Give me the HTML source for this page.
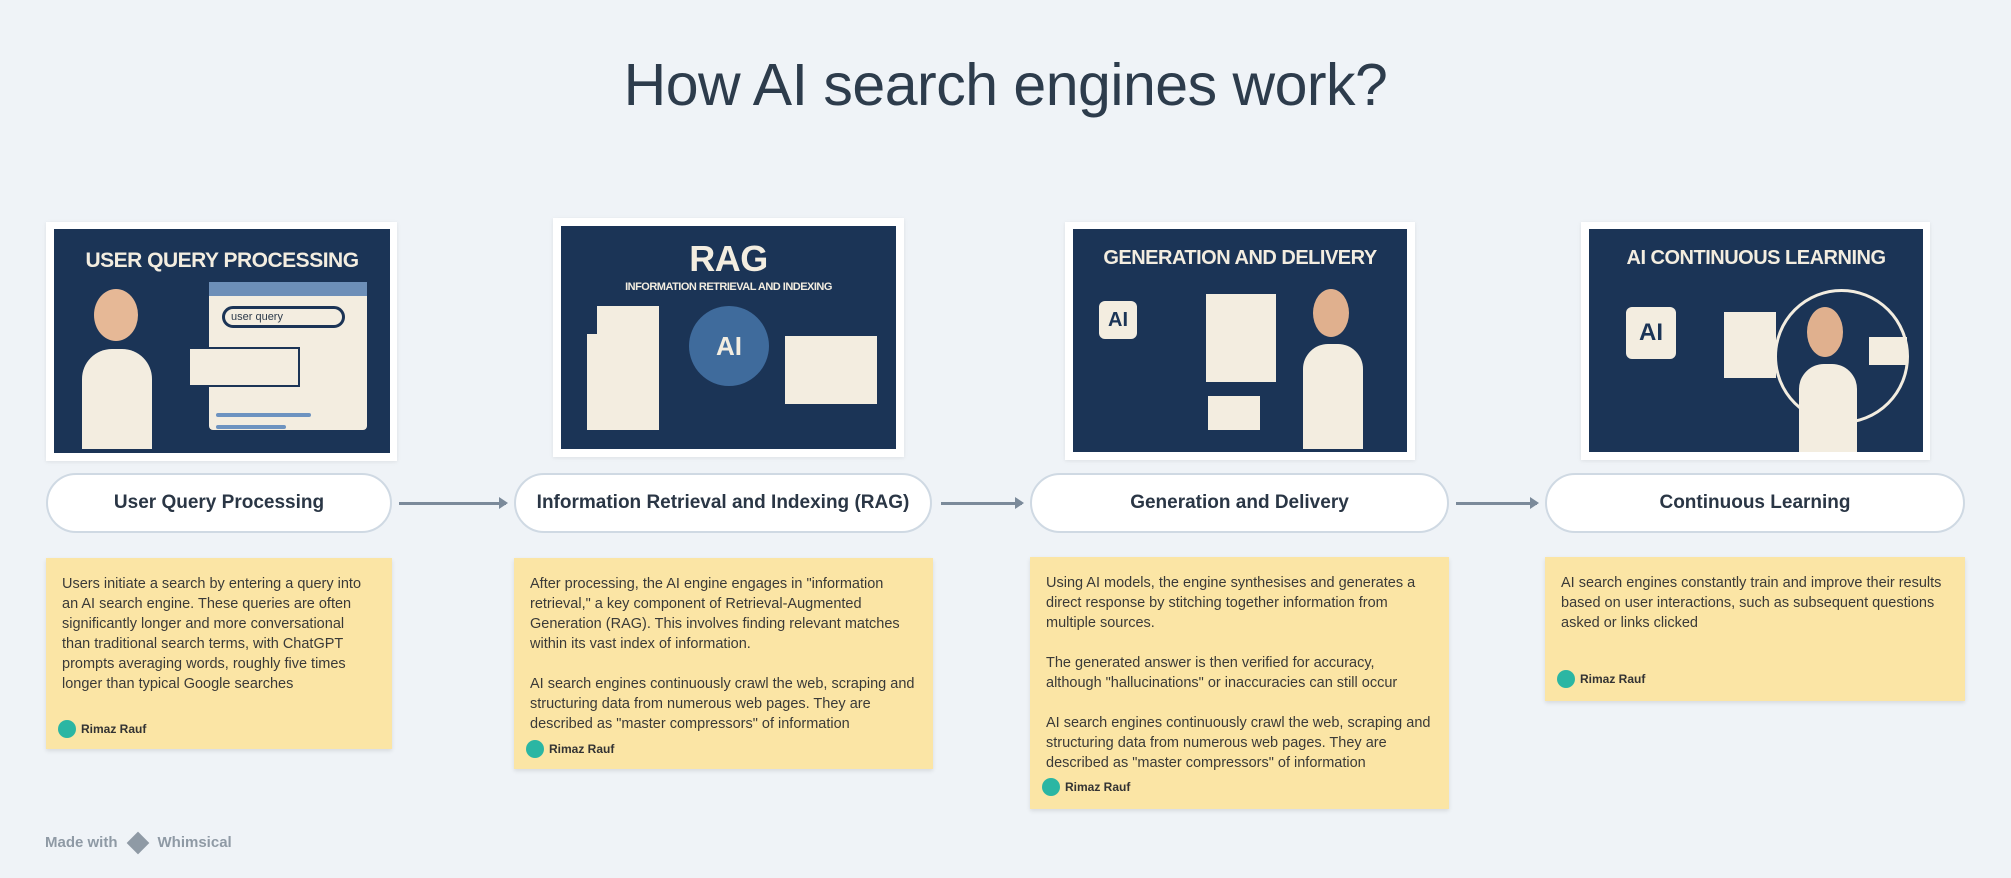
<!DOCTYPE html>
<html><head><meta charset="utf-8"><style>
*{margin:0;padding:0;box-sizing:border-box}
body{width:2011px;height:878px;background:#eff3f7;position:relative;overflow:hidden;font-family:"Liberation Sans",sans-serif;color:#2c3a4a}
.abs{position:absolute}
.title{left:0;width:2011px;top:51px;text-align:center;font-size:59px;color:#2d3c4c;letter-spacing:-0.5px}
.frame{background:#fff;box-shadow:0 1px 4px rgba(0,0,0,.08)}
.img{background:#1b3456;overflow:hidden}
.img .h{position:absolute;left:0;right:0;text-align:center;color:#f3ede0;font-weight:bold;letter-spacing:-0.5px}
.pill{background:#fff;border:2px solid #cfd9e3;border-radius:32px;display:flex;align-items:center;justify-content:center;font-weight:bold;font-size:19px;color:#2a3645}
.note{background:#fbe5a5;box-shadow:0 2px 4px rgba(0,0,0,.1);padding:16px 16px;font-size:14.5px;line-height:20px;color:#3a3a38}
.note p{margin-bottom:20px}
.auth{position:absolute;left:12px;font-size:12px;font-weight:bold;display:flex;align-items:center;gap:5px;color:#333}
.auth i{display:inline-block;width:18px;height:18px;border-radius:50%;background:#2bb6a3}
.arrow{height:3px;background:#7b8a9a}
.arrow:after{content:"";position:absolute;right:-2px;top:-5px;border-left:9px solid #7b8a9a;border-top:6.5px solid transparent;border-bottom:6.5px solid transparent}
.cream{background:#f3ede0;position:absolute}
.line{background:#6d93c0;position:absolute;height:4px;border-radius:2px}
</style></head><body>
<div class="abs title">How AI search engines work?</div>

<div class="abs frame" style="left:46px;top:222px;width:351px;height:239px"></div>
<div class="abs img" style="left:54px;top:229px;width:336px;height:224px">
 <div class="h" style="top:20px;font-size:21px">USER QUERY PROCESSING</div>
 <div class="cream" style="left:155px;top:53px;width:158px;height:148px;border-radius:4px"></div>
 <div class="abs" style="left:155px;top:53px;width:158px;height:14px;background:#6d8fb8"></div>
 <div class="abs" style="left:168px;top:77px;width:123px;height:22px;border:3px solid #1b3456;border-radius:11px;background:#f3ede0;font-size:11px;padding-left:6px;line-height:16px">user query</div>
 <div class="cream" style="left:134px;top:118px;width:112px;height:40px;border:2px solid #1b3456"></div>
 <div class="line" style="left:162px;top:184px;width:95px"></div>
 <div class="line" style="left:162px;top:196px;width:70px"></div>
 <div class="cream" style="left:28px;top:120px;width:70px;height:100px;border-radius:30px 30px 0 0"></div>
 <div class="abs" style="left:40px;top:60px;width:44px;height:52px;border-radius:50%;background:#e6b896"></div>
</div>

<div class="abs frame" style="left:553px;top:218px;width:351px;height:239px"></div>
<div class="abs img" style="left:561px;top:226px;width:335px;height:223px">
 <div class="h" style="top:12px;font-size:36px">RAG</div>
 <div class="h" style="top:55px;font-size:11px">INFORMATION RETRIEVAL AND INDEXING</div>
 <div class="cream" style="left:26px;top:108px;width:72px;height:96px"></div>
 <div class="cream" style="left:36px;top:80px;width:62px;height:40px"></div>
 <div class="abs" style="left:128px;top:80px;width:80px;height:80px;border-radius:50%;background:#3f6b9c;color:#f3ede0;font-size:26px;font-weight:bold;text-align:center;line-height:80px">AI</div>
 <div class="cream" style="left:224px;top:110px;width:92px;height:68px"></div>
</div>

<div class="abs frame" style="left:1065px;top:222px;width:350px;height:238px"></div>
<div class="abs img" style="left:1073px;top:229px;width:334px;height:223px">
 <div class="h" style="top:18px;font-size:20px">GENERATION AND DELIVERY</div>
 <div class="cream" style="left:26px;top:72px;width:38px;height:38px;border-radius:6px;color:#1b3456;font-weight:bold;font-size:20px;text-align:center;line-height:38px">AI</div>
 <div class="cream" style="left:133px;top:65px;width:70px;height:88px"></div>
 <div class="cream" style="left:135px;top:167px;width:52px;height:34px"></div>
 <div class="cream" style="left:230px;top:115px;width:60px;height:105px;border-radius:25px 25px 0 0"></div>
 <div class="abs" style="left:240px;top:60px;width:36px;height:48px;border-radius:50%;background:#e0b08e"></div>
</div>

<div class="abs frame" style="left:1581px;top:222px;width:349px;height:238px"></div>
<div class="abs img" style="left:1589px;top:229px;width:334px;height:223px">
 <div class="h" style="top:18px;font-size:20px">AI CONTINUOUS LEARNING</div>
 <div class="cream" style="left:37px;top:78px;width:50px;height:52px;border-radius:6px;color:#1b3456;font-weight:bold;font-size:24px;text-align:center;line-height:52px">AI</div>
 <div class="cream" style="left:135px;top:83px;width:52px;height:66px"></div>
 <div class="abs" style="left:185px;top:60px;width:135px;height:135px;border-radius:50%;border:3px solid #f3ede0"></div>
 <div class="cream" style="left:210px;top:135px;width:58px;height:88px;border-radius:25px 25px 0 0"></div>
 <div class="abs" style="left:218px;top:78px;width:36px;height:50px;border-radius:50%;background:#e0b08e"></div>
 <div class="cream" style="left:280px;top:108px;width:38px;height:28px"></div>
</div>

<div class="abs pill" style="left:46px;top:473px;width:346px;height:60px">User Query Processing</div>
<div class="abs pill" style="left:514px;top:473px;width:418px;height:60px">Information Retrieval and Indexing (RAG)</div>
<div class="abs pill" style="left:1030px;top:473px;width:419px;height:60px">Generation and Delivery</div>
<div class="abs pill" style="left:1545px;top:473px;width:420px;height:60px">Continuous Learning</div>

<div class="abs arrow" style="left:399px;top:502px;width:107px"></div>
<div class="abs arrow" style="left:941px;top:502px;width:81px"></div>
<div class="abs arrow" style="left:1456px;top:502px;width:81px"></div>

<div class="abs note" style="left:46px;top:558px;width:346px;height:191px">
<p>Users initiate a search by entering a query into an AI search engine. These queries are often significantly longer and more conversational than traditional search terms, with ChatGPT prompts averaging words, roughly five times longer than typical Google searches</p>
<div class="auth" style="top:161px"><i></i>Rimaz Rauf</div></div>

<div class="abs note" style="left:514px;top:558px;width:419px;height:211px">
<p>After processing, the AI engine engages in "information retrieval," a key component of Retrieval-Augmented Generation (RAG). This involves finding relevant matches within its vast index of information.</p>
<p>AI search engines continuously crawl the web, scraping and structuring data from numerous web pages. They are described as "master compressors" of information</p>
<div class="auth" style="top:181px"><i></i>Rimaz Rauf</div></div>

<div class="abs note" style="left:1030px;top:557px;width:419px;height:252px">
<p>Using AI models, the engine synthesises and generates a direct response by stitching together information from multiple sources.</p>
<p>The generated answer is then verified for accuracy, although "hallucinations" or inaccuracies can still occur</p>
<p>AI search engines continuously crawl the web, scraping and structuring data from numerous web pages. They are described as "master compressors" of information</p>
<div class="auth" style="top:220px"><i></i>Rimaz Rauf</div></div>

<div class="abs note" style="left:1545px;top:557px;width:420px;height:144px">
<p>AI search engines constantly train and improve their results based on user interactions, such as subsequent questions asked or links clicked</p>
<div class="auth" style="top:112px"><i></i>Rimaz Rauf</div></div>

<div class="abs" style="left:45px;top:834px;font-size:15px;font-weight:bold;color:#8f9aa5;display:flex;align-items:center;gap:6px">Made with <span style="display:inline-block;width:16px;height:16px;background:#8f9aa5;transform:rotate(45deg);margin:0 6px"></span>Whimsical</div>
</body></html>
